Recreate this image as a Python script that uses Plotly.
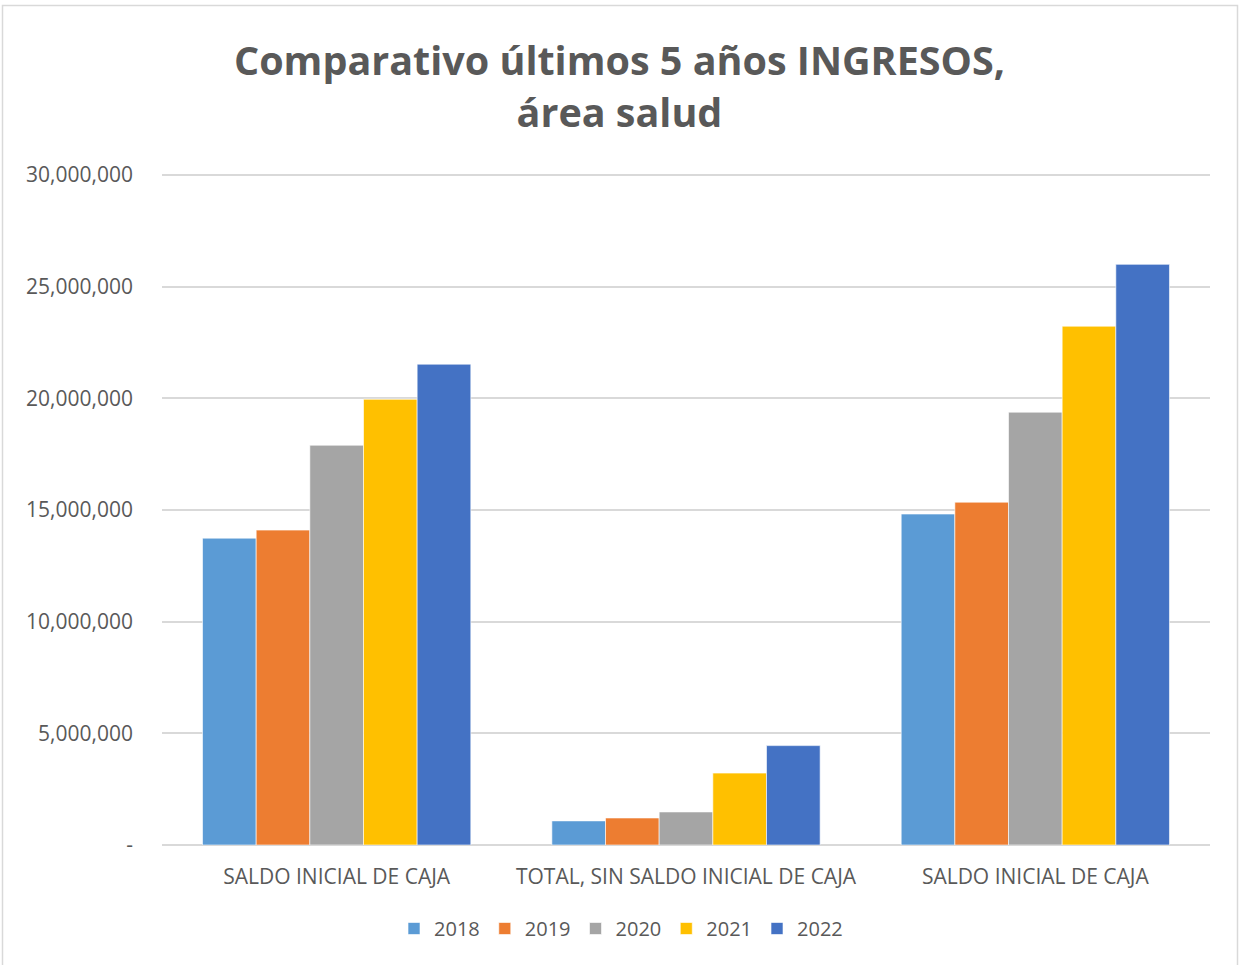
import plotly.graph_objects as go

# data
categories = ["SALDO INICIAL DE CAJA", "TOTAL, SIN SALDO INICIAL DE CAJA", "SALDO INICIAL DE CAJA"]
years = ["2018", "2019", "2020", "2021", "2022"]
values_2018 = [13740000, 1080000, 14820000]
values_2019 = [14100000, 1210000, 15350000]
values_2020 = [17900000, 1480000, 19380000]
values_2021 = [19960000, 3220000, 23230000]
values_2022 = [21530000, 4450000, 26000000]
y_tickvals = [0, 5000000, 10000000, 15000000, 20000000, 25000000, 30000000]
y_ticktext = ["-", "5,000,000", "10,000,000", "15,000,000", "20,000,000", "25,000,000", "30,000,000"]

series = [values_2018, values_2019, values_2020, values_2021, values_2022]
colors = ["#5B9BD5", "#ED7D31", "#A5A5A5", "#FFC000", "#4472C4"]
TEXT = "#595959"
GRID = "#D9D9D9"
FONT = "Open Sans, Liberation Sans, sans-serif"

# two categories share a label, so place them by index and label the ticks
xpos = list(range(len(categories)))

fig = go.Figure()
for year, vals, col in zip(years, series, colors):
    fig.add_trace(go.Bar(
        x=xpos, y=vals, name=year,
        marker=dict(color=col, line=dict(color="rgba(255,255,255,0.6)", width=1)),
    ))

W, H = 1239, 965
L, R, T, B = 162, 29, 168, 120
pw, ph = W - L - R, H - T - B
# a little headroom above 30M so its gridline is drawn (30M sits at y=175)
y_top = 30000000 * (H - B - T) / (H - B - 175)

fig.update_layout(
    width=W, height=H,
    barmode="group", bargap=0.232, bargroupgap=0,
    paper_bgcolor="white", plot_bgcolor="white",
    margin=dict(l=L, r=R, t=T, b=B, autoexpand=False),
    font=dict(family=FONT, color=TEXT, size=21),
    title=dict(
        text="<b>Comparativo últimos 5 años INGRESOS,<br>área salud</b>",
        x=0.5, xanchor="center", y=0.922, yanchor="top",
        font=dict(size=39.5, color=TEXT, family=FONT),
    ),
    xaxis=dict(
        tickvals=xpos, ticktext=categories, range=[-0.5, 2.5],
        showgrid=False, showline=False, ticks="",
        ticklabelstandoff=17, tickfont=dict(size=21, color=TEXT),
    ),
    yaxis=dict(
        range=[0, y_top], tickvals=y_tickvals, ticktext=y_ticktext,
        showgrid=True, gridcolor=GRID, gridwidth=1.5,
        zeroline=True, zerolinecolor=GRID, zerolinewidth=1.5,
        showline=False, ticks="", ticklabelstandoff=28,
        tickfont=dict(size=21, color=TEXT),
    ),
    legend=dict(
        orientation="h", x=0.438, xanchor="center", y=-64 / ph,
        yanchor="top",
        font=dict(size=20, color=TEXT), itemwidth=30, traceorder="normal",
    ),
    shapes=[dict(
        type="rect", xref="paper", yref="paper",
        x0=(2.5 - L) / pw, x1=(W - 1.5 - L) / pw,
        y0=-(B + 10) / ph, y1=1 + (T - 5.5) / ph,
        line=dict(color=GRID, width=1.5), fillcolor="rgba(0,0,0,0)", layer="below",
    )],
)

# drop the default 8px body margin so the figure sits at the page corner
fig.write_html("out.html", config={"displayModeBar": False},
               post_script="document.body.style.margin='0';")
